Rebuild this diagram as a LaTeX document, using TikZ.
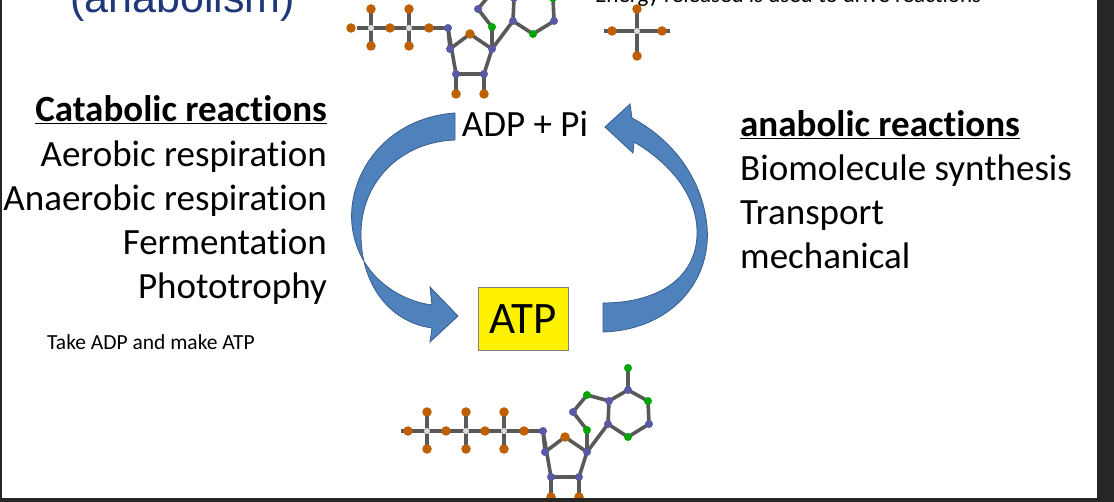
\documentclass[tikz,border=0pt]{standalone}
\usepackage{fontspec}
\setmainfont[Ligatures={NoCommon,NoRare}]{Carlito}
\newfontfamily\arialf{Liberation Sans}
\begin{document}
\begin{tikzpicture}[x=1pt,y=-1pt,
  txt/.style={inner sep=0pt,font=\fontsize{37}{40}\selectfont},
  bond/.style={draw=gray!70!black,line width=3.6pt},
  oatom/.style={circle,fill=orange!75!black,inner sep=0pt,minimum size=9.5pt},
  natom/.style={circle,fill=blue!30!gray,inner sep=0pt,minimum size=8pt},
  gatom/.style={circle,fill=green!65!black,inner sep=0pt,minimum size=8pt},
  patom/.style={circle,fill=gray!25,inner sep=0pt,minimum size=6pt},
  barrow/.style={fill={rgb,255:red,79;green,129;blue,189},draw={rgb,255:red,56;green,93;blue,138},line width=0.8pt}]
\useasboundingbox (0,0) rectangle (1114,502);
\fill[white] (0,0) rectangle (1114,502);
\begin{scope}
\clip (2,0) rectangle (1097,498);
% title fragments
\node[anchor=base west,inner sep=0pt,text={rgb,255:red,31;green,56;blue,120},font=\arialf\fontsize{43}{43}\selectfont] (title) at (70,13) {(anabolism)};
\node[anchor=base west,inner sep=0pt,font=\fontsize{23}{23}\selectfont] (energy) at (595,3) {Energy released is used to drive reactions};
% molecules
\foreach \dx/\dy/\np in {0/0/3,-95/-403/2}{
 \begin{scope}[shift={(\dx,\dy)}]
  \ifnum\np=3
   \draw[bond] (401,431) -- (543,431);
   \foreach \px in {427,466,504}{\draw[bond] (\px,412) -- (\px,449);}
  \else
   \draw[bond] (452,431) -- (543,431);
   \foreach \px in {466,504}{\draw[bond] (\px,412) -- (\px,449);}
  \fi
  \draw[bond] (543,431) -- (545,452) -- (565,437) -- (587,452) -- (579,477) -- (551,477) -- cycle;
  \draw[bond] (551,477) -- (551,497) (579,477) -- (579,497);
  \draw[bond] (587,452) -- (587,430) -- (573,412) -- (587,395) -- (609,401) -- (608,424) -- cycle;
  \draw[bond] (609,401) -- (628,390) -- (648,401) -- (649,424) -- (628,437) -- (608,424);
  \draw[bond] (628,390) -- (628,368);
  \ifnum\np=3 \node[oatom] (o1) at (408,431) {}; \node[patom] (p1) at (427,431) {}; \node[oatom] (o1a) at (427,412) {}; \node[oatom] (o1b) at (427,449) {}; \fi
  \foreach \px/\ox in {466/446,504/485}{
   \node[oatom] at (\ox,431) {}; \node[patom] at (\px,431) {};
   \node[oatom] at (\px,412) {}; \node[oatom] at (\px,449) {};}
  \node[oatom] at (524,431) {};
  \node[natom] at (543,431) {};
  \node[natom] at (545,452) {}; \node[oatom] at (565,437) {};
  \node[natom] at (587,452) {}; \node[natom] at (551,477) {}; \node[natom] at (579,477) {};
  \node[oatom] at (551,497) {}; \node[oatom] at (579,497) {};
  \node[gatom] at (587,430) {}; \node[natom] at (573,412) {}; \node[gatom] at (587,395) {};
  \node[natom] at (609,401) {}; \node[natom] at (608,424) {}; \node[gatom] at (628,437) {};
  \node[natom] at (649,424) {}; \node[gatom] at (648,401) {}; \node[natom] at (628,390) {};
  \node[gatom] at (628,368) {};
 \end{scope}}
% free phosphate
\draw[bond] (604,31) -- (670,31) (637,10) -- (637,56);
\node[oatom] (pa) at (612,31) {}; \node[oatom] (pb) at (662,31) {};
\node[oatom] (pc) at (637,9) {}; \node[oatom] (pd) at (637,56) {};
\node[patom] (pp) at (637,31) {};
% arrows
\path[barrow] (455,113) .. controls (385,118) and (347,175) .. (352,225) .. controls (357,272) and (395,300) .. (432,305)
  -- (430,287) -- (458,316) -- (430,342) -- (432,328)
  .. controls (388,322) and (360,282) .. (361,232) .. controls (362,182) and (400,142) .. (455,140) -- cycle;
\path[barrow] (603,332) .. controls (670,330) and (712,282) .. (707,226) .. controls (702,176) and (670,138) .. (632,118)
  -- (630,104) -- (605,127) -- (633,153) -- (634,142)
  .. controls (668,162) and (695,192) .. (697,229) .. controls (699,276) and (660,303) .. (603,303) -- cycle;
% texts
\node[anchor=base,inner sep=0pt,font=\fontsize{37}{37}\selectfont] (adp) at (525,137) {ADP + Pi};
\node[draw=gray,line width=0.6pt,fill=yellow,minimum width=90pt,minimum height=63pt,inner sep=0pt,font=\fontsize{45}{45}\selectfont] (atp) at (523,319) {ATP};
\node[txt,anchor=base east] (cat) at (327,122) {\textbf{\underline{Catabolic reactions}}};
\node[txt,anchor=base east] (c1) at (327,167) {Aerobic respiration};
\node[txt,anchor=base east] (c2) at (327,211) {Anaerobic respiration};
\node[txt,anchor=base east] (c3) at (327,255) {Fermentation};
\node[txt,anchor=base east] (c4) at (327,299) {Phototrophy};
\node[anchor=base west,inner sep=0pt,font=\fontsize{21.5}{22}\selectfont] (take) at (47,350) {Take ADP and make ATP};
\node[txt,anchor=base west] (ana) at (740,137) {\textbf{\underline{anabolic reactions}}};
\node[txt,anchor=base west] (a1) at (740,181) {Biomolecule synthesis};
\node[txt,anchor=base west] (a2) at (740,225) {Transport};
\node[txt,anchor=base west] (a3) at (740,269) {mechanical};
\end{scope}
\fill[black!85] (1097,0) rectangle (1114,502);
\fill[black!85] (0,498) rectangle (1114,502);
\fill[black!85] (0,0) rectangle (2,502);
\end{tikzpicture}
\end{document}
